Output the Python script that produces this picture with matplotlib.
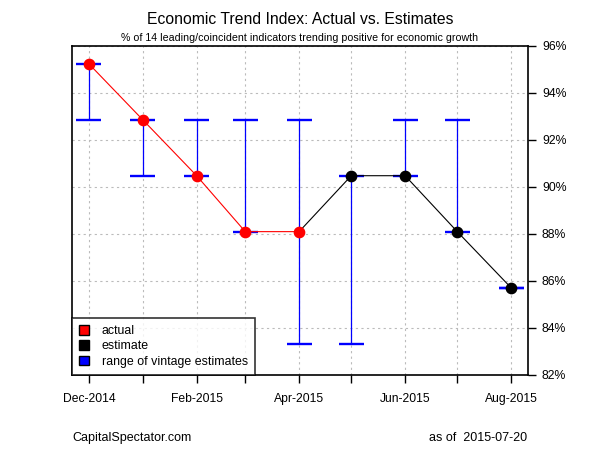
import datetime as dt
import matplotlib
matplotlib.use("Agg")
import matplotlib.pyplot as plt
import matplotlib.dates as mdates
from matplotlib.patches import Patch

plt.rcParams['font.family'] = ['Liberation Sans', 'DejaVu Sans']

months = ["2014-12-01", "2015-01-01", "2015-02-01", "2015-03-01", "2015-04-01",
          "2015-05-01", "2015-06-01", "2015-07-01", "2015-08-01"]
month_labels = ["Dec-2014", "", "Feb-2015", "", "Apr-2015", "", "Jun-2015", "", "Aug-2015"]
values = [95.24, 92.86, 90.48, 88.10, 88.10, 90.48, 90.48, 88.10, 85.71]
range_low = [92.86, 90.48, 90.48, 88.10, 83.33, 83.33, 90.48, 88.10, 85.71]
range_high = [95.24, 92.86, 92.86, 92.86, 92.86, 90.48, 92.86, 92.86, 85.71]
n_actual = 5  # Dec-2014 .. Apr-2015 are actual readings
y_ticks = [82, 84, 86, 88, 90, 92, 94, 96]

dates = [dt.datetime.strptime(m, "%Y-%m-%d") for m in months]
x = mdates.date2num(dates)

fig = plt.figure(figsize=(6, 4.5), dpi=100)
ax = fig.add_axes([0.12, 0.1667, 0.76, 0.7311])

# range of vintage estimates
ax.vlines(x, range_low, range_high, color='blue', lw=0.9, zorder=2)
cap = 7.2  # days
ax.hlines(range_low, x - cap, x + cap, color='blue', lw=1.7, zorder=2)
ax.hlines(range_high, x - cap, x + cap, color='blue', lw=1.7, zorder=2)

# actual and estimate lines
ax.plot(x[:n_actual], values[:n_actual], color='red', lw=0.8, zorder=3)
ax.plot(x[n_actual - 1:], values[n_actual - 1:], color='black', lw=0.8, zorder=3)
ax.scatter(x[:n_actual], values[:n_actual], s=55, color='red', zorder=4)
ax.scatter(x[n_actual:], values[n_actual:], s=55, color='black', zorder=4)

span = x[-1] - x[0]
ax.set_xlim(x[0] - 0.04 * span, x[-1] + 0.04 * span)
ax.set_ylim(82, 96)

ax.set_xticks(x)
ax.set_xticklabels(month_labels, fontsize=8.7)
ax.yaxis.tick_right()
ax.set_yticks(y_ticks)
ax.set_yticklabels([f"{v}%" for v in y_ticks], fontsize=8.8)
ax.tick_params(axis='both', direction='out', length=6, width=1, color='black', pad=7)
ax.tick_params(axis='y', pad=4)

ax.grid(True, color='#bbbbbb', linestyle=(0, (2, 3)), lw=0.8)
ax.set_axisbelow(True)
for s in ax.spines.values():
    s.set_linewidth(1.2)

handles = [Patch(facecolor='red', edgecolor='black', label='actual'),
           Patch(facecolor='black', edgecolor='black', label='estimate'),
           Patch(facecolor='blue', edgecolor='black', label='range of vintage estimates')]
leg = ax.legend(handles=handles, loc='lower left', fontsize=8.9, frameon=True,
                fancybox=False, borderaxespad=0, handlelength=0.8, handleheight=0.8,
                handletextpad=1.0, labelspacing=0.25, borderpad=0.6)
leg.get_frame().set_edgecolor('black')
leg.get_frame().set_linewidth(1.2)

fig.text(0.5, 0.957, "Economic Trend Index: Actual vs. Estimates", ha='center',
         va='center', fontsize=11.3)
fig.text(0.5, 0.915, "% of 14 leading/coincident indicators trending positive for economic growth",
         ha='center', va='center', fontsize=7.7)
fig.text(0.12, 0.027, "CapitalSpectator.com", ha='left', va='center', fontsize=9)
fig.text(0.878, 0.027, "as of  2015-07-20", ha='right', va='center', fontsize=9)

fig.savefig("out.png", dpi=100)
